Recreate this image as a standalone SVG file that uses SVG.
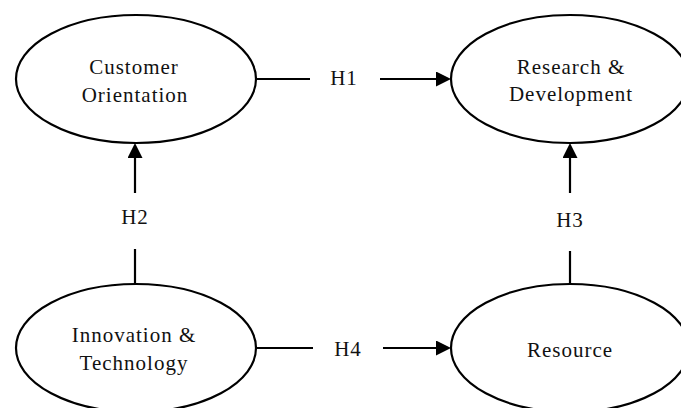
<svg xmlns="http://www.w3.org/2000/svg" width="681" height="408" viewBox="0 0 681 408">
<style>
.node{fill:#fff;stroke:#000;stroke-width:2.2}
.t{font-family:"Liberation Serif","DejaVu Serif",serif;font-size:21px;fill:#111;text-anchor:middle;letter-spacing:1px}
.c{stroke:#000;stroke-width:2.2;fill:none}
.a{marker-end:url(#arr)}
</style>
<defs>
<marker id="arr" markerUnits="userSpaceOnUse" markerWidth="16" markerHeight="16" refX="10" refY="7.5" orient="auto">
<path d="M0,0 L15,7.5 L0,15 z" fill="#000"/>
</marker>
</defs>
<rect width="681" height="408" fill="#fff"/>
<g id="connectors">
<line class="c" x1="256" y1="79" x2="310" y2="79"/>
<line class="c a" x1="380" y1="79" x2="446" y2="79"/>
<text class="t" x="344" y="85">H1</text>
<line class="c" x1="135" y1="285" x2="135" y2="249"/>
<line class="c a" x1="135" y1="193" x2="135" y2="148"/>
<text class="t" x="135" y="224">H2</text>
<line class="c" x1="570" y1="285" x2="570" y2="251"/>
<line class="c a" x1="570" y1="193" x2="570" y2="148"/>
<text class="t" x="570" y="227">H3</text>
<line class="c" x1="255" y1="348" x2="313" y2="348"/>
<line class="c a" x1="383" y1="348" x2="446" y2="348"/>
<text class="t" x="348" y="356">H4</text>
</g>
<g id="customer">
<ellipse class="node" cx="136" cy="79" rx="120" ry="64"/>
<text class="t" x="134" y="74">Customer</text>
<text class="t" x="135" y="102">Orientation</text>
</g>
<g id="rnd">
<ellipse class="node" cx="570" cy="79" rx="119" ry="64"/>
<text class="t" x="571" y="74">Research &amp;</text>
<text class="t" x="571" y="101">Development</text>
</g>
<g id="innovation">
<ellipse class="node" cx="136" cy="348" rx="120" ry="64"/>
<text class="t" x="134" y="342">Innovation &amp;</text>
<text class="t" x="134" y="370">Technology</text>
</g>
<g id="resource">
<ellipse class="node" cx="570" cy="348" rx="119" ry="64"/>
<text class="t" x="570" y="357">Resource</text>
</g>
</svg>
